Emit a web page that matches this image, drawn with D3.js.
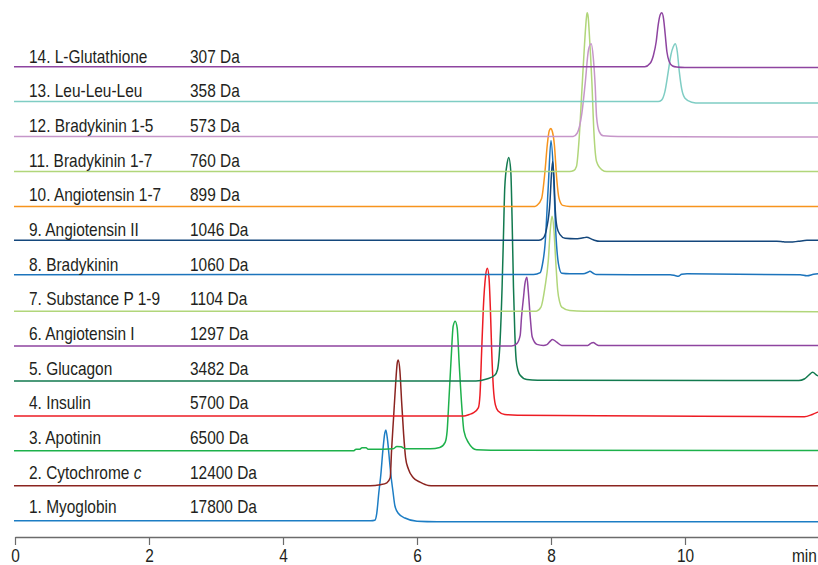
<!DOCTYPE html>
<html>
<head>
<meta charset="utf-8">
<script src="https://cdn.jsdelivr.net/npm/d3@7"></script>
<style>
  html, body { margin: 0; padding: 0; background: #ffffff; }
  svg { display: block; }
  text { font-family: "Liberation Sans", Arial, sans-serif; fill: #231f20; }
</style>
</head>
<body>
<svg id="chart" width="818" height="565"></svg>
<script>
// Peptide / protein standards, bottom (1) to top (14)
const compounds = [
  "1. Myoglobin", "2. Cytochrome c", "3. Apotinin", "4. Insulin", "5. Glucagon",
  "6. Angiotensin I", "7. Substance P 1-9", "8. Bradykinin", "9. Angiotensin II",
  "10. Angiotensin 1-7", "11. Bradykinin 1-7", "12. Bradykinin 1-5",
  "13. Leu-Leu-Leu", "14. L-Glutathione"
];
const masses = [
  "17800 Da", "12400 Da", "6500 Da", "5700 Da", "3482 Da", "1297 Da", "1104 Da",
  "1060 Da", "1046 Da", "899 Da", "760 Da", "573 Da", "358 Da", "307 Da"
];
const traceColors = [
  "#1c7dc4", "#8b2420", "#1db14b", "#ed1c24", "#127a4f", "#8e44a0", "#b1d67a",
  "#1c74bc", "#14477c", "#f7941d", "#b1d67a", "#c696c9", "#7fcdc4", "#8e44a0"
];
const timeTicks = [0, 2, 4, 6, 8, 10];

// Chromatogram traces: [retention time (min), signal above the trace's own baseline]
const trace01 = [[0,0],[5.31,0],[5.37,0.5],[5.40,7.7],[5.43,28],[5.46,46],[5.49,70],[5.52,88],[5.535,91],[5.56,81],[5.59,60],[5.61,46],[5.64,30],[5.67,15],[5.72,7.5],[5.82,2.7],[6.00,-0.5],[6.3,-1],[12.05,-1]];
const trace02 = [[0,0],[5.30,0],[5.45,1],[5.55,3],[5.60,8],[5.62,35],[5.65,68],[5.68,101],[5.705,123],[5.72,126],[5.745,115],[5.77,85],[5.80,52],[5.83,28],[5.87,17],[5.945,8],[6.045,3.7],[6.17,0.3],[6.25,0],[12.05,0]];
const trace03 = [[0,0],[5.05,0],[5.09,1.5],[5.14,1.5],[5.18,3],[5.24,3],[5.27,1.7],[5.50,1.7],[5.64,2],[5.70,4.3],[5.76,4],[5.83,2],[6.20,2],[6.34,3.3],[6.42,8.5],[6.45,20],[6.47,43],[6.51,93],[6.54,125],[6.57,130],[6.60,123],[6.63,87],[6.67,43],[6.70,20],[6.77,8],[6.89,1],[7.1,0.5],[12.05,0.3]];
const trace04 = [[0,0],[6.70,0],[6.78,1.5],[6.84,3],[6.915,8],[6.94,21],[6.965,65],[6.99,108],[7.025,141],[7.05,148],[7.075,138],[7.095,108],[7.115,65],[7.14,28],[7.17,11],[7.21,5],[7.31,1.5],[7.50,0.8],[9.5,0],[11.78,-0.8],[11.90,1.5],[12.05,6]];
const trace05 = [[0,0],[6.88,0],[7.04,2],[7.16,5.7],[7.20,11],[7.24,40],[7.27,94],[7.29,144],[7.31,194],[7.345,218],[7.37,224],[7.40,210],[7.42,160],[7.44,94],[7.46,48],[7.48,21],[7.51,10],[7.54,5.7],[7.64,1.4],[7.80,0.7],[11.70,0.5],[11.78,2],[11.85,6],[11.905,8.7],[11.97,5.7],[12.05,4]];
const trace06 = [[0,0],[7.41,0],[7.49,2.5],[7.54,10.7],[7.56,29],[7.59,49],[7.61,62],[7.64,69],[7.66,56],[7.69,29],[7.72,9],[7.79,1.7],[7.885,0.7],[7.94,1.5],[7.99,5],[8.02,6.7],[8.085,4],[8.16,0.7],[8.55,0.7],[8.60,3],[8.63,3.7],[8.67,2],[8.71,0.7],[12.05,0.7]];
const trace07 = [[0,0],[7.78,0],[7.85,4],[7.91,24],[7.96,51],[7.99,82],[8.015,95],[8.045,80],[8.07,51],[8.10,21],[8.13,9],[8.16,4],[8.28,0.7],[8.5,0],[12.05,-0.5]];
const trace08 = [[0,1.5],[7.74,1.8],[7.84,3.7],[7.87,11],[7.91,31],[7.96,91],[8.00,136],[8.035,106],[8.07,46],[8.11,13],[8.16,3],[8.28,2.5],[8.48,2.5],[8.55,4],[8.58,5],[8.63,3],[8.68,1.7],[9.78,1.5],[9.86,0.5],[9.90,0],[9.95,2],[10.03,2.5],[11.72,1.5],[11.82,0.5],[11.92,2],[12.05,3]];
const trace09 = [[0,1],[7.82,1],[7.885,3.3],[7.935,13],[7.985,40],[8.005,65],[8.025,80],[8.045,62],[8.065,30],[8.09,14],[8.135,6.7],[8.21,3],[8.36,2.5],[8.48,3.5],[8.53,4],[8.63,1.5],[8.73,0],[11.37,0],[11.47,-0.5],[11.57,-0.8],[11.69,0],[11.82,1],[12.05,1]];
const trace10 = [[0,0],[7.76,0],[7.79,1],[7.86,8],[7.91,35],[7.945,62],[7.975,76],[8.00,78],[8.02,75],[8.05,62],[8.085,28],[8.12,8],[8.175,1],[8.28,0],[12.05,0]];
const trace11 = [[0,0],[8.28,0],[8.34,1],[8.38,5],[8.42,33],[8.46,80],[8.50,127],[8.53,155],[8.54,159],[8.555,155],[8.57,140],[8.61,90],[8.64,40],[8.68,10],[8.76,1.7],[8.83,0],[12.05,0]];
const trace12 = [[0,0],[8.33,0],[8.39,3.3],[8.46,23],[8.51,53],[8.56,87],[8.60,93],[8.63,80],[8.66,50],[8.68,20],[8.72,5],[8.78,0.7],[9.0,0],[12.05,-0.5]];
const trace13 = [[0,0],[9.60,0],[9.65,1.5],[9.70,10],[9.75,30],[9.79,47],[9.825,55],[9.855,58],[9.885,50],[9.915,30],[9.95,13],[10.0,3.4],[10.10,-0.6],[10.22,-1.5],[12.05,-1.5]];
const trace14 = [[0,0],[9.40,0],[9.48,3.4],[9.53,11.7],[9.57,25],[9.60,42],[9.63,52],[9.655,54],[9.68,48],[9.705,32],[9.73,15],[9.765,5],[9.815,0.7],[9.875,-0.3],[10.0,-0.8],[12.05,-0.8]];

const traces = [trace01, trace02, trace03, trace04, trace05, trace06, trace07,
                trace08, trace09, trace10, trace11, trace12, trace13, trace14];

const stackStep = 35;   // signal units between stacked baselines
const fontSize = 18.5;
const condense = 0.835; // horizontal squeeze for a condensed sans look

const svg = d3.select("#chart");
svg.append("rect").attr("width", 818).attr("height", 565).attr("fill", "#ffffff");

const x = d3.scaleLinear().domain([0, 12]).range([15, 819]);
const y = d3.scaleLinear().domain([0, 13 * stackStep]).range([520.7, 66.7]);
const labelY = d3.scaleLinear().domain([0, 13]).range([513.4, 62.7]);

const line = d3.line()
  .x(d => x(d[0]))
  .y(d => y(d[1]))
  .curve(d3.curveMonotoneX);

const plot = svg.append("g");
traces.forEach((pts, i) => {
  const offset = i * stackStep;
  const shifted = [[-0.015, pts[0][1]]].concat(pts).map(p => [p[0], p[1] + offset]);
  plot.append("path")
    .datum(shifted)
    .attr("d", line)
    .attr("fill", "none")
    .attr("stroke", traceColors[i])
    .attr("stroke-width", 1.5)
    .attr("stroke-linejoin", "round");
});

// Condensed text anchored at (tx, ty)
function condensedText(parent, tx, ty, anchor) {
  return parent.append("text")
    .attr("transform", `translate(${tx},${ty}) scale(${condense},1)`)
    .attr("text-anchor", anchor || "start")
    .style("font-size", fontSize + "px");
}

// Compound names and masses above each baseline
const labels = svg.append("g");
compounds.forEach((name, i) => {
  const t = condensedText(labels, 29, labelY(i));
  if (name.endsWith(" c")) {
    t.append("tspan").text(name.slice(0, -1));
    t.append("tspan").style("font-style", "italic").text("c");
  } else {
    t.text(name);
  }
  condensedText(labels, 190, labelY(i)).text(masses[i]);
});

// Time axis
const axis = d3.axisBottom(x).tickValues(timeTicks).tickSize(8).tickSizeOuter(0);
const gAxis = svg.append("g").attr("transform", "translate(0,537)").call(axis);
gAxis.select(".domain").attr("stroke", "#6b6b6b").attr("stroke-width", 1.5);
gAxis.selectAll(".tick line").attr("stroke", "#6b6b6b").attr("stroke-width", 1.2);
gAxis.selectAll(".tick text")
  .attr("y", 0).attr("dy", 0)
  .attr("transform", `translate(0,24.5) scale(${condense},1)`)
  .style("font-size", fontSize + "px")
  .style("font-family", "\"Liberation Sans\", Arial, sans-serif")
  .attr("fill", "#231f20");

condensedText(svg, 792, 561.5).text("min");
</script>
</body>
</html>
